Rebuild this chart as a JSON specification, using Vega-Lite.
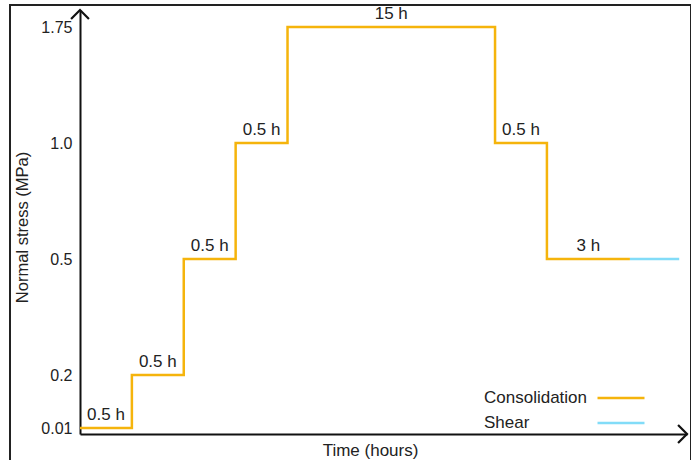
{
  "$schema": "https://vega.github.io/schema/vega-lite/v6.json",
  "width": 681,
  "height": 460,
  "autosize": "none",
  "padding": {"left": 10, "top": 5, "right": 0, "bottom": 0},
  "background": "white",
  "config": {
    "font": "Liberation Sans",
    "view": {"stroke": "#222", "strokeWidth": 2},
    "axis": {"labelFont": "Liberation Sans", "titleFont": "Liberation Sans", "labelColor": "#222", "titleColor": "#222", "titleFontWeight": "normal"}
  },
  "datasets": {
    "steps": [
      {"phase": "Consolidation", "time": 0, "stress": 0.01},
      {"phase": "Consolidation", "time": 1, "stress": 0.2},
      {"phase": "Consolidation", "time": 2, "stress": 0.5},
      {"phase": "Consolidation", "time": 3, "stress": 1.0},
      {"phase": "Consolidation", "time": 4, "stress": 1.75},
      {"phase": "Consolidation", "time": 8, "stress": 1.0},
      {"phase": "Consolidation", "time": 9, "stress": 0.5},
      {"phase": "Consolidation", "time": 10.6, "stress": 0.5},
      {"phase": "Shear", "time": 10.6, "stress": 0.5},
      {"phase": "Shear", "time": 11.55, "stress": 0.5}
    ],
    "labels": [
      {"start": 0, "end": 1, "stress": 0.01, "label": "0.5 h"},
      {"start": 1, "end": 2, "stress": 0.2, "label": "0.5 h"},
      {"start": 2, "end": 3, "stress": 0.5, "label": "0.5 h"},
      {"start": 3, "end": 4, "stress": 1.0, "label": "0.5 h"},
      {"start": 4, "end": 8, "stress": 1.75, "label": "15 h"},
      {"start": 8, "end": 9, "stress": 1.0, "label": "0.5 h"},
      {"start": 9, "end": 10.6, "stress": 0.5, "label": "3 h"}
    ]
  },
  "layer": [
    {
      "data": {"name": "steps"},
      "mark": {"type": "line", "interpolate": "step-after", "strokeWidth": 2.5},
      "encoding": {
        "x": {
          "field": "time", "type": "quantitative",
          "scale": {"domain": [0, 11.7], "range": [70, 677], "nice": false, "zero": false},
          "axis": {
            "orient": "bottom", "offset": -31, "labels": false, "ticks": false, "grid": false,
            "domainColor": "#111", "domainWidth": 2,
            "title": "Time (hours)", "titleFontSize": 17, "titleX": 360, "titleY": 21,
            "titleBaseline": "alphabetic", "titleAlign": "center"
          }
        },
        "y": {
          "field": "stress", "type": "quantitative",
          "scale": {"domain": [0, 0.01, 0.2, 0.5, 1.0, 1.75, 2], "range": [429, 423, 370, 254, 138, 22, 5], "nice": false, "zero": false},
          "axis": {
            "orient": "left", "offset": -70, "ticks": false, "grid": false,
            "values": [0.01, 0.2, 0.5, 1.0, 1.75],
            "labelExpr": "datum.value == 1 ? '1.0' : datum.value == 0.5 ? '0.5' : datum.value == 0.2 ? '0.2' : datum.value == 1.75 ? '1.75' : '0.01'",
            "labelFontSize": 16, "labelPadding": 8,
            "domainColor": "#111", "domainWidth": 2,
            "title": "Normal stress (MPa)", "titleFontSize": 16.5, "titleAngle": -90,
            "titleX": -53, "titleY": 222, "titleBaseline": "alphabetic", "titleAlign": "center"
          }
        },
        "color": {
          "field": "phase", "type": "nominal",
          "scale": {"domain": ["Consolidation", "Shear"], "range": ["#F5B40C", "#82DCF8"]},
          "legend": {
            "title": null, "orient": "none", "legendX": 598, "legendY": 380,
            "symbolType": "M-2,0L2,0", "symbolSize": 552, "symbolStrokeWidth": 2.5,
            "symbolFillColor": "transparent",
            "labelAlign": "left", "labelOffset": -150, "labelFontSize": 17, "labelColor": "#222",
            "labelFont": "Liberation Sans", "rowPadding": 4, "padding": 0, "labelLimit": 300
          }
        }
      }
    },
    {
      "data": {"name": "labels"},
      "transform": [{"calculate": "(datum.start + datum.end) / 2", "as": "mid"}],
      "mark": {"type": "text", "fontSize": 17, "color": "#222", "baseline": "alphabetic", "dy": -8, "font": "Liberation Sans"},
      "encoding": {
        "x": {"field": "mid", "type": "quantitative"},
        "y": {"field": "stress", "type": "quantitative"},
        "text": {"field": "label"}
      }
    },
    {
      "data": {"values": [{}]},
      "mark": {"type": "point", "shape": "M-1,1L0,0L1,1", "size": 320, "filled": false, "stroke": "#111", "strokeWidth": 2.2, "opacity": 1},
      "encoding": {"x": {"datum": 0}, "y": {"datum": 2}}
    },
    {
      "data": {"values": [{}]},
      "mark": {"type": "point", "shape": "M-1,-1L0,0L-1,1", "size": 320, "filled": false, "stroke": "#111", "strokeWidth": 2.2, "opacity": 1},
      "encoding": {"x": {"datum": 11.7}, "y": {"datum": 0}}
    }
  ]
}
